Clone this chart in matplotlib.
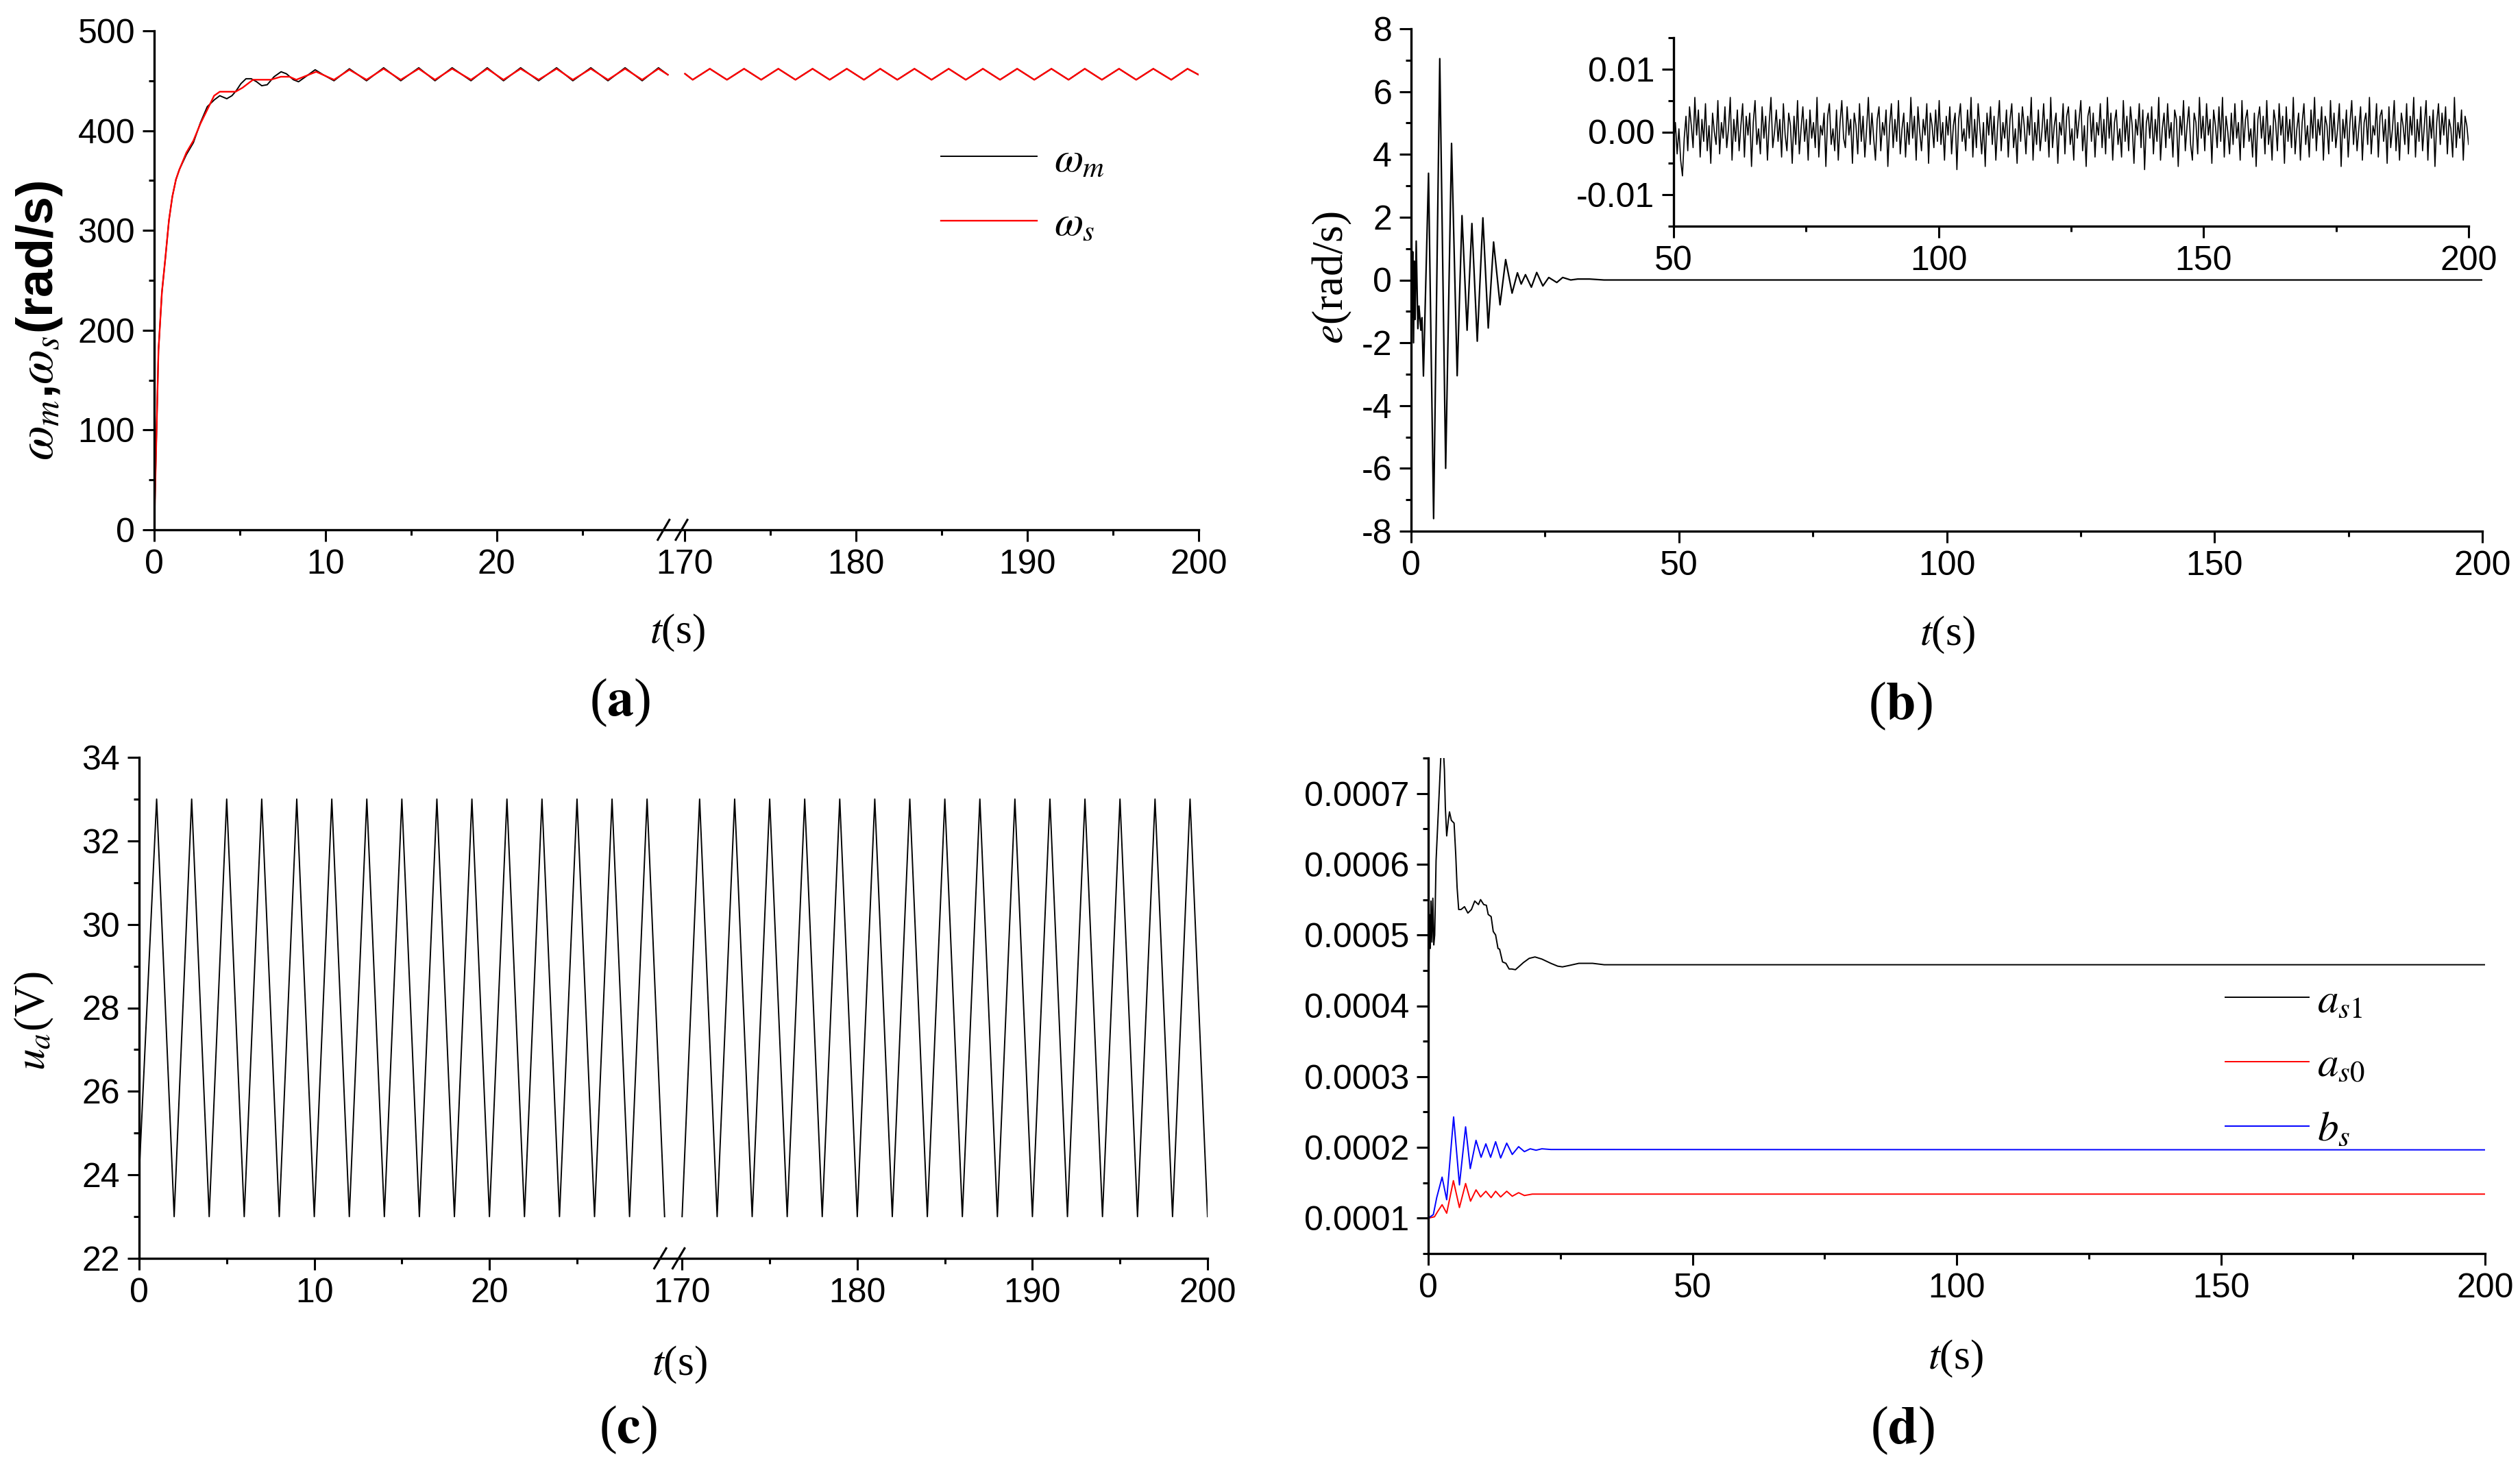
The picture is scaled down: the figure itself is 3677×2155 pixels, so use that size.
import numpy as np
import matplotlib
matplotlib.use('Agg')
import matplotlib.pyplot as plt
from matplotlib.ticker import FixedLocator, MultipleLocator, FormatStrFormatter
from matplotlib.transforms import blended_transform_factory

plt.rcParams['font.family'] = ['Liberation Sans', 'DejaVu Sans']
plt.rcParams['mathtext.fontset'] = 'stix'
plt.rcParams['axes.unicode_minus'] = False

W, H = 3677, 2155

# (a) speeds, left part 0-30 s and right part 170-200 s
wm_t_left = [0, 0.14, 0.25, 0.45, 0.65, 0.86, 1.06, 1.27, 1.47, 1.88, 2.29, 2.7, 3.1,
             3.52, 3.83, 4.24, 4.54, 4.79, 5.06, 5.36, 5.67, 5.98, 6.28, 6.6, 7.0, 7.41,
             7.72, 8.13, 8.43, 8.84, 9.4, 9.87, 10.5, 11.4, 12.4, 13.4, 14.4, 15.45, 16.4,
             17.4, 18.5, 19.45, 20.4, 21.4, 22.45, 23.5, 24.45, 25.5, 26.5, 27.5, 28.5,
             29.45, 30.0]
wm_left = [0, 101, 180, 238, 272, 310, 334, 351, 361, 376, 388, 408, 424,
           431, 435, 432, 435, 440, 447, 452, 452, 449, 445, 446, 454, 459,
           457, 451, 449, 454, 461, 456, 450, 462, 450, 463, 450, 463, 450,
           463, 450, 463, 450, 463, 450, 463, 450, 463, 450, 463, 450,
           463, 456]
ws_t_left = [0, 0.14, 0.25, 0.45, 0.65, 0.86, 1.06, 1.27, 1.47, 1.88, 2.29, 2.7, 3.1,
             3.5, 3.83, 4.75, 5.16, 5.77, 6.8, 7.4, 7.9, 8.3, 9.46, 10.5, 11.4, 12.4,
             13.4, 14.4, 15.45, 16.4, 17.4, 18.5, 19.45, 20.4, 21.4, 22.45, 23.5, 24.45,
             25.5, 26.5, 27.5, 28.5, 29.45, 30.0]
ws_left = [0, 101, 180, 238, 272, 310, 334, 351, 361, 378, 390, 407, 421,
           435, 439, 439, 443, 451, 451, 454, 454, 451, 459, 451, 461, 451,
           462, 451, 462, 451, 462, 451, 462, 451, 462, 451, 462, 451,
           462, 451, 462, 451, 462, 456]
ws_t_right = [170.0, 170.45, 171.45, 172.45, 173.45, 174.45, 175.45, 176.45, 177.45,
              178.45, 179.45, 180.45, 181.4, 182.4, 183.4, 184.4, 185.4, 186.4, 187.4,
              188.4, 189.4, 190.4, 191.4, 192.4, 193.35, 194.35, 195.35, 196.35, 197.35,
              198.4, 199.35, 200.0]
ws_right = [457, 451, 462, 451, 462, 451, 462, 451, 462,
            451, 462, 451, 462, 451, 462, 451, 462, 451, 462,
            451, 462, 451, 462, 451, 462, 451, 462, 451, 462,
            451, 462, 456]
# omega_m lies under omega_s on the right part
wm_t_right = ws_t_right
wm_right = ws_right

# (b) tracking error
e_t = [0, 0.15, 0.3, 0.45, 0.6, 0.75, 0.95, 1.26, 1.47, 1.82, 2.03, 2.3, 3.25, 4.2,
       5.35, 6.45, 7.55, 8.6, 9.5, 10.45, 11.35, 12.35, 13.4, 14.4, 15.4, 16.6, 17.65,
       18.85, 19.85, 20.55, 21.35, 22.45, 23.45, 24.6, 25.7, 27.2, 28.3, 29.8, 31.1,
       33.3, 36.0, 200]
e_v = [0, -1.2, 0.9, -2.0, 0.6, -1.26, 1.24, -1.55, -0.83, -1.6, -1.2, -3.06, 3.4, -7.6,
       7.05, -6.0, 4.35, -3.05, 2.05, -1.6, 1.8, -1.95, 1.98, -1.53, 1.21, -0.79, 0.65,
       -0.42, 0.23, -0.13, 0.17, -0.23, 0.24, -0.19, 0.08, -0.08, 0.08, 0.0, 0.03,
       0.03, 0.0, 0.0]
# inset: error from 50 s to 200 s, units of 1e-4 rad/s
e_noise = [
    -20, 15, -35, 5, -45, -70, -10, 25, -30, 40, 10, -25, 55, -5, 35, -40, 20, -15, 45, -30, 10, -50, 30, 0, -20, 50, -35, 15, -10, 40,
    -25, 5, 55, -45, 20, -15, 35, -30, 10, 45, -40, 25, -5, 30, -55, 15, 50, -20, 5, -35, 40, -10, 25, -45, 15, 55, -25, 0, 35, -15,
    20, -40, 45, -5, -30, 30, 10, -50, 25, -20, 50, -35, 5, 40, -15, 20, -45, 35, -10, 15, -25, 55, -40, 10, -5, 30, -55, 25, 45, -20,
    5, -30, 35, -45, 15, 50, -10, -25, 40, -5, 20, -50, 30, 10, -35, 45, -15, 25, -40, 5, 55, -20, 30, -10, -45, 20, 40, -30, 15, -5,
    35, -55, 10, 45, -25, 20, -15, 50, -35, 5, 30, -40, 15, -20, 55, -10, 25, -45, 40, 0, -30, 20, -5, 45, -50, 30, 10, -25, 35, -15,
    50, -20, 15, -45, 25, -5, 40, -35, 10, 30, -60, 20, 45, -15, 5, -30, 35, -10, 55, -40, 20, -25, 45, 5, -35, 15, -55, 30, -5, 40,
    -20, 25, -45, 10, 50, -30, 15, -10, 35, -40, 20, 45, -25, 5, -50, 30, -15, 40, 10, -35, 25, -5, 55, -45, 15, -20, 35, -30, 0, 45,
    -15, 20, -40, 55, -25, 10, 30, -50, 15, -5, 45, -35, 25, 40, -20, 5, -45, 35, -10, 20, 50, -30, 10, -55, 25, 40, -15, 30, -40, 15,
    -5, 45, -25, 20, -35, 55, -10, 30, -45, 15, 35, -20, 5, -40, 50, -15, 25, -30, 40, 10, -50, 20, -5, 45, -25, 35, -60, 15, 30, -10,
    40, -35, 20, -15, 55, -45, 5, 30, -25, 45, -10, 15, -40, 35, 20, -55, 25, -5, 50, -30, 10, 40, -20, -45, 30, 15, -35, 55, -10, 25,
    -30, 45, -5, 20, -50, 35, 10, -25, 40, -15, 55, -40, 25, 0, -35, 30, -20, 45, -10, 15, -45, 50, -25, 20, 35, -15, 5, -40, 30, -55,
    20, 40, -10, 25, -35, 50, -20, 10, -45, 35, 15, -30, 45, -5, 25, -50, 40, -15, 20, -25, 55, -35, 5, 30, -45, 15, 45, -20, 10, -40,
    35, -10, 55, -30, 20, -5, 40, -45, 25, 10, -35, 50, -15, 30, -25, 5, 45, -55, 20, -10, 35, -40, 15, 50, -20, 25, -30, 5, 40, -45,
    15, 30, -20, 55, -35, 10, -5, 45, -40, 25, 35, -15, 20, -50, 40, -25, 5, 50, -30, 15, -45, 30, 10, -20, 45, -35, 25, -5, 55, -40,
    20, -15, 40, -30, 10, 50, -45, 25, -10, 35, -55, 15, 45, -20, 30, -5, 40, -35, 20, 5, -40, 55, -25, 15, -10, 35, -45, 25, 10, -20,
]

# (c) armature voltage, triangle vertices
ua_t_left = list(range(0, 31))
ua_left = [24, 33, 23, 33, 23, 33, 23, 33, 23, 33, 23, 33, 23, 33, 23, 33,
           23, 33, 23, 33, 23, 33, 23, 33, 23, 33, 23, 33, 23, 33, 23]
ua_t_right = list(range(170, 201))
ua_right = [23, 33, 23, 33, 23, 33, 23, 33, 23, 33, 23, 33, 23, 33, 23, 33,
            23, 33, 23, 33, 23, 33, 23, 33, 23, 33, 23, 33, 23, 33, 23]

# (d) parameter estimates, units of 1e-4
as1_t = [0, 0.09, 0.22, 0.39, 0.52, 0.7, 0.87, 1.05, 1.22, 1.48, 1.83, 2.18, 2.55, 2.75,
         3.06, 3.23, 3.49, 3.8, 4.02, 4.37, 4.89, 5.2, 5.46, 5.76, 6.2, 6.86, 7.5, 8.17,
         8.8, 9.5, 9.9, 10.5, 11.0, 11.35, 11.9, 12.3, 12.75, 13.2, 13.5, 14.06, 14.7,
         15.3, 15.8, 16.5, 17.1, 18.0, 19.1, 20.2, 21.5, 23.2, 24.5, 25.4, 26.7, 28.5,
         31.1, 33.3, 200]
as1 = [4.3, 4.24, 5.29, 4.81, 5.48, 4.90, 5.52, 4.86, 5.0, 6.05, 6.62, 7.19, 7.8, 7.8,
       7.33, 6.81, 6.40, 6.62, 6.74, 6.62, 6.58, 6.14, 5.67, 5.36, 5.36, 5.40, 5.31, 5.36,
       5.48, 5.43, 5.50, 5.43, 5.42, 5.29, 5.26, 5.05, 5.0, 4.81, 4.80, 4.62, 4.60,
       4.52, 4.52, 4.51, 4.55, 4.61, 4.67, 4.69, 4.66, 4.60, 4.56, 4.55, 4.57, 4.60,
       4.60, 4.58, 4.58]
as0_t = [0, 1.18, 1.83, 2.62, 3.49, 4.76, 5.9, 7.07, 8.0, 9.04, 9.9, 10.9, 11.9, 12.75,
         13.7, 14.85, 15.9, 17.1, 18.2, 19.7, 200]
as0 = [1.0, 1.02, 1.10, 1.19, 1.07, 1.53, 1.15, 1.49, 1.24, 1.40, 1.30, 1.38, 1.29, 1.38,
       1.30, 1.38, 1.31, 1.36, 1.32, 1.34, 1.34]
bs_t = [0, 0.96, 1.6, 2.62, 3.49, 4.8, 5.9, 7.07, 7.95, 9.04, 10.0, 10.9, 11.8, 12.75,
        13.7, 14.85, 15.9, 17.1, 18.2, 19.3, 20.4, 21.5, 23.2, 200]
bs = [1.0, 1.05, 1.29, 1.58, 1.26, 2.43, 1.47, 2.29, 1.70, 2.10, 1.86, 2.05, 1.86, 2.08,
      1.85, 2.06, 1.90, 2.01, 1.94, 1.98, 1.96, 1.98, 1.97, 1.965]

# broken time axis: 0-30 then 170-200 drawn right after a 1 s gap
BRK_LO = 30
BRK_SHIFT = 139


def brk(t):
    t = np.asarray(t, dtype=float)
    return np.where(t > BRK_LO + 1, t - BRK_SHIFT, t)


def box(x0, y0, x1, y1):
    return [x0 / W, 1 - y1 / H, (x1 - x0) / W, (y1 - y0) / H]


def style(ax, size=36):
    for s in ['top', 'right']:
        ax.spines[s].set_visible(False)
    for s in ['left', 'bottom']:
        ax.spines[s].set_linewidth(2.4)
    ax.tick_params(which='major', direction='out', length=12, width=2.2, labelsize=size, pad=8)
    ax.tick_params(which='minor', direction='out', length=6, width=2.2)


def break_marks(ax):
    tr = blended_transform_factory(ax.transData, ax.transAxes)
    for x in [BRK_LO - 0.25, BRK_LO + 0.8]:
        ax.plot([x - 0.34, x + 0.34], [-0.02, 0.02], transform=tr, color='k',
                lw=2.2, clip_on=False)


def broken_xticks(ax):
    major = [0, 10, 20, 170, 180, 190, 200]
    minor = [5, 15, 25, 175, 185, 195]
    ax.xaxis.set_major_locator(FixedLocator(brk(major)))
    ax.set_xticklabels([str(m) for m in major])
    ax.xaxis.set_minor_locator(FixedLocator(brk(minor)))
    ax.set_xlim(0, brk(200))


fig = plt.figure(figsize=(W / 100, H / 100), dpi=100)


def ftext(x, y, s, **kw):
    fig.text(x / W, 1 - y / H, s, ha='center', va='center', **kw)


serif = ['Liberation Serif', 'DejaVu Serif']

# ---- (a)
ax = fig.add_axes(box(225, 45, 1749, 773))
style(ax)
l_m, = ax.plot(brk(wm_t_left), wm_left, color='k', lw=1.4)
ax.plot(brk(wm_t_right), wm_right, color='k', lw=1.4)
l_s, = ax.plot(brk(ws_t_left), ws_left, color='#ff0000', lw=1.7)
ax.plot(brk(ws_t_right), ws_right, color='#ff0000', lw=1.7)
ax.set_ylim(0, 500)
ax.yaxis.set_major_locator(MultipleLocator(100))
ax.yaxis.set_minor_locator(MultipleLocator(50))
broken_xticks(ax)
break_marks(ax)
ax.legend([l_m, l_s], [r'$\omega_m$', r'$\omega_s$'], loc='center left',
          bbox_to_anchor=(0.753, 0.676), frameon=False, fontsize=44,
          handlelength=2.3, handletextpad=0.4, labelspacing=0.6, borderpad=0,
          borderaxespad=0)
ftext(58, 468, r'$\omega_m$,$\omega_s$(rad/s)', rotation=90, fontsize=53,
      fontweight='bold')
ftext(988, 923, r'$t$(s)', fontsize=44, family=serif)
ftext(905, 1025, r'($\mathbf{a}$)', fontsize=56, family=serif)

# ---- (b)
ax = fig.add_axes(box(2059, 42, 3622, 775))
style(ax)
ax.plot(e_t, e_v, color='k', lw=1.6)
ax.set_xlim(0, 200)
ax.set_ylim(-8, 8)
ax.xaxis.set_major_locator(MultipleLocator(50))
ax.xaxis.set_minor_locator(MultipleLocator(25))
ax.yaxis.set_major_locator(MultipleLocator(2))
ax.yaxis.set_minor_locator(MultipleLocator(1))
ftext(1944, 405, r'$e$(rad/s)', rotation=90, fontsize=46, family=serif)
ftext(2841, 926, r'$t$(s)', fontsize=44, family=serif)
ftext(2773, 1030, r'($\mathbf{b}$)', fontsize=56, family=serif)

axin = fig.add_axes(box(2442, 55, 3602, 330))
axin.set_facecolor('none')
style(axin)
t_noise = np.linspace(50, 200, len(e_noise))
axin.plot(t_noise, np.array(e_noise) * 1e-4, color='k', lw=1.2)
axin.set_xlim(50, 200)
axin.set_ylim(-0.015, 0.015)
axin.xaxis.set_major_locator(MultipleLocator(50))
axin.xaxis.set_minor_locator(MultipleLocator(25))
axin.yaxis.set_major_locator(MultipleLocator(0.01))
axin.yaxis.set_minor_locator(MultipleLocator(0.005))
axin.yaxis.set_major_formatter(FormatStrFormatter('%.2f'))

# ---- (c)
ax = fig.add_axes(box(203, 1105, 1762, 1836))
style(ax)
ax.plot(brk(ua_t_left), ua_left, color='k', lw=1.4)
ax.plot(brk(ua_t_right), ua_right, color='k', lw=1.4)
ax.set_ylim(22, 34)
ax.yaxis.set_major_locator(MultipleLocator(2))
ax.yaxis.set_minor_locator(MultipleLocator(1))
broken_xticks(ax)
break_marks(ax)
ftext(50, 1490, r'$u_a$(V)', rotation=90, fontsize=46, family=serif)
ftext(991, 1991, r'$t$(s)', fontsize=44, family=serif)
ftext(916, 2086, r'($\mathbf{c}$)', fontsize=56, family=serif)

# ---- (d)
ax = fig.add_axes(box(2084, 1106, 3626, 1829))
style(ax)
l1, = ax.plot(as1_t, np.array(as1) * 1e-4, color='k', lw=1.4)
l0, = ax.plot(as0_t, np.array(as0) * 1e-4, color='#ff0000', lw=1.4)
lb, = ax.plot(bs_t, np.array(bs) * 1e-4, color='#0000ff', lw=1.4)
ax.set_xlim(0, 200)
ax.set_ylim(0.00005, 0.00075)
ax.xaxis.set_major_locator(MultipleLocator(50))
ax.xaxis.set_minor_locator(MultipleLocator(25))
ax.yaxis.set_major_locator(FixedLocator([0.0001, 0.0002, 0.0003, 0.0004, 0.0005, 0.0006, 0.0007]))
ax.yaxis.set_minor_locator(MultipleLocator(0.00005))
ax.yaxis.set_major_formatter(FormatStrFormatter('%.4f'))
ax.legend([l1, l0, lb], [r'$a_{s1}$', r'$a_{s0}$', r'$b_s$'], loc='center left',
          bbox_to_anchor=(0.754, 0.379), frameon=False, fontsize=44,
          handlelength=2.0, handletextpad=0.2, labelspacing=0.6, borderpad=0,
          borderaxespad=0)
ftext(2853, 1982, r'$t$(s)', fontsize=44, family=serif)
ftext(2776, 2087, r'($\mathbf{d}$)', fontsize=56, family=serif)

fig.savefig('out.png', dpi=100)
